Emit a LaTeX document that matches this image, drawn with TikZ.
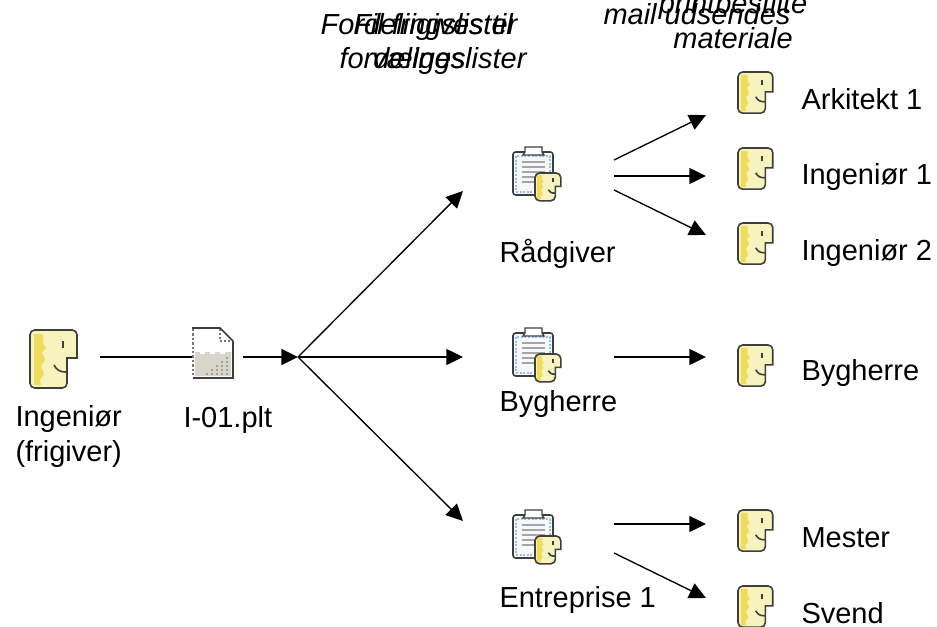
\documentclass[tikz,border=0pt]{standalone}
\usepackage{fontspec}
\setmainfont{Liberation Sans}
\usetikzlibrary{arrows.meta}

\definecolor{iconline}{RGB}{62,62,58}
\definecolor{facepale}{RGB}{246,243,190}
\definecolor{facestrip}{RGB}{240,220,90}
\definecolor{docgrey}{RGB}{214,214,202}
\definecolor{dotgrey}{RGB}{120,120,110}
\definecolor{listblue}{RGB}{150,190,245}
\definecolor{listpaper}{RGB}{246,248,252}
\definecolor{listrule}{RGB}{165,165,165}

\tikzset{every picture/.style={line width=0.75pt}}
\tikzset{
	label/.style={anchor=base west,inner sep=0pt,font=\fontsize{21.75}{24}\selectfont},
	headline/.style={anchor=base,inner sep=0pt,font=\fontsize{21.75}{24}\selectfont\itshape},
	link/.style={line width=1pt,-{Triangle[length=12.5pt,width=12pt]}},
	smallface/.style={xscale=0.74,yscale=-0.71},
	faceoutline/.style={rounded corners=3.5pt},
	facepic/.pic={
		\fill[facepale,faceoutline] (0,0) -- (47,0) [sharp corners] -- (47,28) -- (37,28) [rounded corners=3.5pt] -- (37,58) -- (0,58) -- cycle;
		\fill[facestrip] (4,4) -- (13,4) -- (13,14) -- (16,18) -- (12,22) -- (15,30) -- (11,36) -- (14,44) -- (10,50) -- (11,55) -- (4,55) -- cycle;
		\draw[iconline,line width=1.2pt,faceoutline] (20,0) -- (47,0) [sharp corners] -- (47,28) -- (37,28) [rounded corners=3.5pt] -- (37,58) -- (0,58) -- (0,0) -- (20,0);
		\draw[iconline,line width=1.5pt] (33,11) -- (33,18);
		\draw[iconline,line width=1.2pt] (24,35) .. controls (27,40) and (29,42) .. (37,42);
	},
	docpic/.pic={
		\fill[white] (0,0) -- (28,0) -- (41,13) -- (41,50) -- (0,50) -- cycle;
		\fill[docgrey] (3,24) -- (8,24) -- (8,26) -- (13,26) -- (13,24) -- (18,24) -- (18,26) -- (23,26) -- (23,24) -- (28,24) -- (28,26) -- (33,26) -- (33,24) -- (39,24) -- (39,48) -- (3,48) -- cycle;
		\foreach \dotx/\doty in {34/29,34/33,29/33,34/37,29/37,24/37,34/41,29/41,24/41,19/41,34/45,29/45,24/45,19/45,14/45}
			\fill[dotgrey!70] (\dotx,\doty) rectangle +(2,2);
		\draw[dotgrey,line width=1.8pt,dash pattern=on 1.8pt off 1.5pt] (1,1) -- (1,49);
		\draw[dotgrey,line width=1.2pt,dash pattern=on 1.5pt off 1.5pt] (28,1) -- (28,13) -- (41,13);
		\draw[iconline,line width=1.3pt] (0,0) -- (28,0) -- (41,13);
		\draw[iconline,line width=1.8pt] (41,13) -- (41,50) -- (1,50);
	},
	listpic/.pic={
		\draw[iconline,line width=1.2pt,fill=listpaper,rounded corners=2pt] (0,5) rectangle (40,48);
		\draw[listblue,line width=1.6pt,dash pattern=on 1.5pt off 1.2pt] (3,9) rectangle (37,45);
		\draw[iconline,line width=1pt,fill=white] (12,5) -- (12,0) -- (29,0) -- (29,5) -- (31,8) -- (10,8) -- cycle;
		\foreach \ruley in {15,20,25,30,35}
			\draw[listrule,line width=1pt] (9,\ruley) -- (32,\ruley);
		\pic[xscale=0.55,yscale=-0.48] at (22,26) {facepic};
	}
}

\begin{document}
\begin{tikzpicture}[x=0.75pt,y=0.75pt,yscale=-1,xscale=1]
	\useasboundingbox (0,0) rectangle (937,627);

	%Icons
	\pic[yscale=-1] at (30,330) {facepic};
	\pic[yscale=-1] at (192,328) {docpic};
	\pic[yscale=-1] at (513,147) {listpic};
	\pic[yscale=-1] at (513,328) {listpic};
	\pic[yscale=-1] at (513,510) {listpic};
	\pic[smallface] at (738,72) {facepic};
	\pic[smallface] at (738,148) {facepic};
	\pic[smallface] at (738,223) {facepic};
	\pic[smallface] at (738,345) {facepic};
	\pic[smallface] at (738,510) {facepic};
	\pic[smallface] at (738,586) {facepic};

	%Connector ends
	\coordinate (ingout) at (100,357);
	\coordinate (pltin) at (192,357);
	\coordinate (pltout) at (243,357);
	\coordinate (hub) at (298,357);
	\coordinate (raadin) at (463,191);
	\coordinate (bygin) at (463,357);
	\coordinate (entin) at (463,521);
	\coordinate (raadout1) at (614,160);
	\coordinate (raadout2) at (614,176);
	\coordinate (raadout3) at (614,190);
	\coordinate (bygout) at (614,357);
	\coordinate (entout1) at (614,524);
	\coordinate (entout2) at (614,553);
	\coordinate (arkin) at (706,115);
	\coordinate (ing1in) at (706,176);
	\coordinate (ing2in) at (706,235);
	\coordinate (bygherrein) at (706,357);
	\coordinate (mesterin) at (706,524);
	\coordinate (svendin) at (706,598);

	%Straight Lines
	\draw[line width=1.25pt] (ingout) -- (pltin);
	\draw[link,line width=1.25pt] (pltout) -- (hub);
	\draw[link] (hub) -- (raadin);
	\draw[link] (hub) -- (bygin);
	\draw[link] (hub) -- (entin);
	\draw[link] (raadout1) -- (arkin);
	\draw[link] (raadout2) -- (ing1in);
	\draw[link] (raadout3) -- (ing2in);
	\draw[link] (bygout) -- (bygherrein);
	\draw[link] (entout1) -- (mesterin);
	\draw[link] (entout2) -- (svendin);

	% Text Node
	\node[label,align=left] (ingeniorlabel) at (15,461) {Ingeniør\\[2.25pt](frigiver)};
	% Text Node
	\node[label] (pltlabel) at (183,427) {I-01.plt};
	% Text Node
	\node[label] (raadlabel) at (499,262) {Rådgiver};
	% Text Node
	\node[label] (byglabel) at (499,411) {Bygherre};
	% Text Node
	\node[label] (entlabel) at (499,607) {Entreprise 1};
	% Text Node
	\node[label] (arklabel) at (801,110) {Arkitekt 1};
	% Text Node
	\node[label] (ing1label) at (801,185) {Ingeniør 1};
	% Text Node
	\node[label] (ing2label) at (801,260) {Ingeniør 2};
	% Text Node
	\node[label] (bygherrelabel) at (801,380) {Bygherre};
	% Text Node
	\node[label] (mesterlabel) at (801,547) {Mester};
	% Text Node
	\node[label] (svendlabel) at (801,623) {Svend};

	% Text Node
	\node[headline,align=center] (listhead) at (419,69) {Fordelingslister\\[1.5pt]vælges};
	% Text Node
	\node[headline,align=center] (frigivhead) at (433,69) {Fil frigives til\\[1.5pt]fordelingslister};
	% Text Node
	\node[headline] (mailhead) at (697,25) {mail udsendes};
	% Text Node
	\node[headline,align=center] (printhead) at (733,49) {printbestilte\\[2.25pt]materiale};
\end{tikzpicture}
\end{document}
